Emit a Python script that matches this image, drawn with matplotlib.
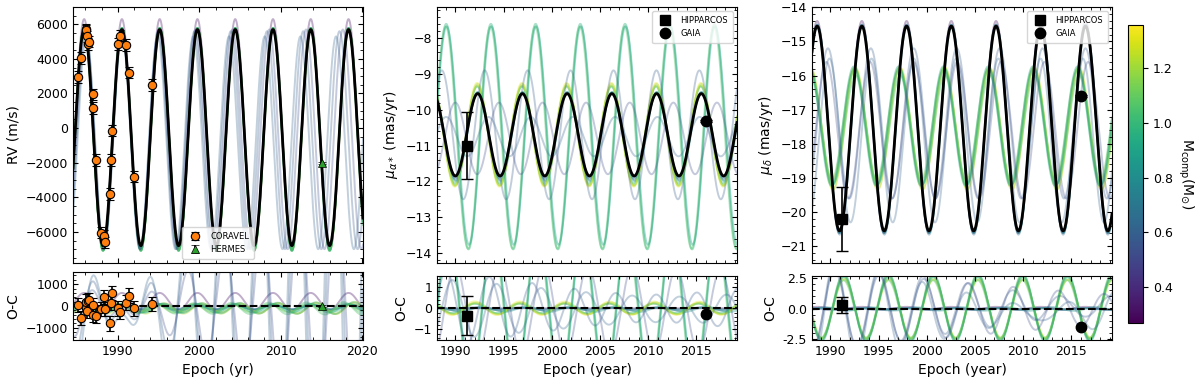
import numpy as np
import matplotlib
matplotlib.use('Agg')
import matplotlib.pyplot as plt
from matplotlib import colors, cm
from matplotlib.ticker import AutoMinorLocator, MultipleLocator, FormatStrFormatter

# ---- orbit samples ----
# companion mass of each sampled orbit, sets the colour
mass = [0.33, 0.55, 0.65, 0.75, 0.85, 0.95, 1.05, 1.15, 1.25, 1.32, 0.98, 1.06, 0.90, 0.58, 0.62, 0.52]
line_alpha = [0.35, 0.35, 0.35, 0.35, 0.35, 0.35, 0.35, 0.35, 0.35, 0.35, 0.4, 0.4, 0.4, 0.3, 0.3, 0.3]
period = [4.636, 4.640, 4.632, 4.636, 4.638, 4.636, 4.634, 4.638, 4.636, 4.640, 4.636, 4.634, 4.638, 4.45, 4.38, 4.52]

# RV: time of maximum, semi-amplitude, offset (m/s)
rv_tp = [1985.87, 1985.85, 1985.89, 1985.87, 1985.86, 1985.88, 1985.87, 1985.85, 1985.89, 1985.87, 1985.87, 1985.86, 1985.88, 1986.06, 1986.13, 1985.99]
rv_amp = [6650, 6350, 6350, 6380, 6350, 6400, 6420, 6400, 6420, 6400, 6450, 6450, 6430, 6300, 6150, 6350]
rv_off = [-350, -600, -600, -620, -600, -650, -650, -650, -660, -650, -650, -660, -650, -700, -850, -650]

# proper motion in RA (mas/yr)
pma_tp = [1992.32, 1992.30, 1992.34, 1992.32, 1992.36, 1992.26, 1992.28, 1992.30, 1992.27, 1992.25, 1989.05, 1989.00, 1989.10, 1988.60, 1989.05, 1990.00]
pma_amp = [1.15, 1.20, 1.22, 1.18, 1.25, 1.35, 1.38, 1.42, 1.40, 1.45, 3.15, 3.10, 3.05, 1.80, 0.55, 1.00]
pma_off = [-10.70, -10.72, -10.74, -10.70, -10.75, -10.70, -10.72, -10.70, -10.72, -10.70, -10.75, -10.78, -10.72, -10.70, -10.75, -10.80]

# proper motion in Dec (mas/yr)
pmd_tp = [1993.27, 1993.25, 1993.29, 1993.27, 1993.30, 1992.55, 1992.45, 1992.60, 1992.50, 1992.58, 1992.52, 1992.62, 1992.44, 1989.75, 1989.90, 1989.60]
pmd_amp = [3.10, 3.05, 3.08, 3.05, 3.02, 1.70, 1.60, 1.78, 1.66, 1.80, 1.72, 1.58, 1.75, 2.20, 2.40, 2.00]
pmd_off = [-17.50, -17.57, -17.58, -17.56, -17.57, -17.50, -17.45, -17.55, -17.42, -17.55, -17.50, -17.58, -17.48, -17.40, -17.90, -17.60]

# best-fit orbit (black)
best_period = 4.636
best_rv = [1985.87, 6250, -550]
best_pma = [1992.32, 1.15, -10.70]
best_pmd = [1993.27, 3.00, -17.55]

# ---- measurements ----
coravel_t = [1985.15, 1985.43, 1986.05, 1986.12, 1986.20, 1986.30, 1986.45, 1986.97, 1987.00, 1987.38, 1987.90,
             1988.26, 1988.47, 1989.08, 1989.12, 1989.29, 1990.02, 1990.33, 1991.03, 1991.43, 1992.04, 1994.19]
coravel_rv = [2950, 4050, 5700, 5650, 5300, 4850, 5000, 1950, 1150, -1850, -6050,
              -6250, -6600, -3800, -1850, -150, 4850, 5350, 4800, 3200, -2800, 2500]
coravel_err = [330, 330, 330, 330, 330, 330, 330, 330, 330, 330, 330,
               330, 330, 330, 330, 330, 330, 330, 330, 330, 330, 330]
coravel_oc = [46, -537, -74, 204, -231, 250, 278, 46, -417, -444, -139,
              403, -139, -801, 157, 588, -106, -259, 157, 481, -106, 93]
hermes_t = [2015.03]
hermes_rv = [-2040]
hermes_err = [60]
hermes_oc = [0]

hip_t, gaia_t = 1991.25, 2016.0
pma_hip, pma_hip_err, pma_hip_oc = -11.0, 0.93, -0.35
pma_gaia, pma_gaia_err, pma_gaia_oc = -10.32, 0.03, -0.25
pmd_hip, pmd_hip_err, pmd_hip_oc, pmd_hip_ocerr = -20.2, 0.93, 0.32, 0.67
pmd_gaia, pmd_gaia_err, pmd_gaia_oc = -16.6, 0.03, -1.5


def orbit(t, P, tp, amp, off):
    return off + amp * np.cos(2 * np.pi * (t - tp) / P)


def style(ax):
    ax.tick_params(direction='in', which='both', top=True, right=True, labelsize=9)
    ax.xaxis.set_minor_locator(AutoMinorLocator())
    ax.yaxis.set_minor_locator(AutoMinorLocator())


norm = colors.Normalize(vmin=0.27, vmax=1.36)
cmap = plt.get_cmap('viridis')

fig = plt.figure(figsize=(12, 3.81), dpi=100)

H = 381.
W = 1200.
def box(x0, x1, y0, y1):
    return [x0 / W, 1 - y1 / H, (x1 - x0) / W, (y1 - y0) / H]

panels = [
    dict(main=box(73, 363, 7, 263), res=box(73, 363, 272, 340), xlim=(1984.5, 2020.1),
         tp=rv_tp, amp=rv_amp, off=rv_off, best=best_rv),
    dict(main=box(437, 737, 7, 263), res=box(437, 737, 275.5, 340), xlim=(1988.1, 2019.2),
         tp=pma_tp, amp=pma_amp, off=pma_off, best=best_pma),
    dict(main=box(812, 1112, 7, 263), res=box(812, 1112, 275.5, 340), xlim=(1988.1, 2019.2),
         tp=pmd_tp, amp=pmd_amp, off=pmd_off, best=best_pmd),
]

axes = []
for p in panels:
    ax = fig.add_axes(p['main'])
    axr = fig.add_axes(p['res'], sharex=ax)
    t = np.linspace(p['xlim'][0], p['xlim'][1], 2000)
    yb = orbit(t, best_period, *p['best'])
    for i in range(len(mass)):
        y = orbit(t, period[i], p['tp'][i], p['amp'][i], p['off'][i])
        c = cmap(norm(mass[i]))
        ax.plot(t, y, color=c, alpha=line_alpha[i], lw=1.4, zorder=1)
        axr.plot(t, y - yb, color=c, alpha=line_alpha[i], lw=1.4, zorder=1)
    ax.plot(t, yb, color='k', lw=2, zorder=3)
    axr.axhline(0, color='k', ls='--', lw=1.5, zorder=3)
    ax.set_xlim(p['xlim'])
    style(ax)
    style(axr)
    plt.setp(ax.get_xticklabels(), visible=False)
    axes.append((ax, axr))

# ---- RV panel ----
ax, axr = axes[0]
ax.errorbar(coravel_t, coravel_rv, yerr=coravel_err, fmt='o', color='#ff7f0e', mec='k', mew=0.8,
            ms=6, ecolor='k', elinewidth=1.2, capsize=3, zorder=5, label='CORAVEL')
ax.errorbar(hermes_t, hermes_rv, yerr=hermes_err, fmt='^', color='#2ca02c', mec='k', mew=0.5,
            ms=6, ecolor='k', elinewidth=1.2, capsize=3, zorder=5, label='HERMES')
axr.errorbar(coravel_t, coravel_oc, yerr=coravel_err, fmt='o', color='#ff7f0e', mec='k', mew=0.8,
             ms=6, ecolor='k', elinewidth=1.2, capsize=3, zorder=5)
axr.errorbar(hermes_t, hermes_oc, yerr=hermes_err, fmt='^', color='#2ca02c', mec='k', mew=0.5,
             ms=6, ecolor='k', elinewidth=1.2, capsize=3, zorder=5)
ax.set_ylim(-7800, 7000)
ax.yaxis.set_major_locator(MultipleLocator(2000))
axr.set_ylim(-1560, 1560)
axr.yaxis.set_major_locator(MultipleLocator(1000))
ax.set_ylabel('RV (m/s)', fontsize=10)
axr.set_ylabel('O-C', fontsize=10)
axr.set_xlabel('Epoch (yr)', fontsize=10)
axr.xaxis.set_major_locator(MultipleLocator(10))
ax.legend(loc='lower center', fontsize=6, borderpad=0.6)

# ---- proper motion panels ----
pm_data = [
    (pma_hip, pma_hip_err, pma_hip_oc, pma_hip_err, pma_gaia, pma_gaia_err, pma_gaia_oc,
     (-14.28, -7.13), (-1.5, 1.55), r'$\mu_{\alpha*}$ (mas/yr)', 1.0, 1),
    (pmd_hip, pmd_hip_err, pmd_hip_oc, pmd_hip_ocerr, pmd_gaia, pmd_gaia_err, pmd_gaia_oc,
     (-21.49, -13.99), (-2.55, 2.7), r'$\mu_{\delta}$ (mas/yr)', 1.0, 2.5),
]
for (ax, axr), d in zip(axes[1:], pm_data):
    hip, hip_e, hip_oc, hip_oce, gaia, gaia_e, gaia_oc, ylim, rlim, lab, ymaj, rmaj = d
    ax.errorbar([hip_t], [hip], yerr=[hip_e], fmt='none', ecolor='k', elinewidth=1.2, capsize=4, zorder=5)
    ax.plot([hip_t], [hip], 's', color='k', ms=7.5, zorder=6, label='HIPPARCOS')
    ax.errorbar([gaia_t], [gaia], yerr=[gaia_e], fmt='none', ecolor='k', elinewidth=1.2, capsize=4, zorder=5)
    ax.plot([gaia_t], [gaia], 'o', color='k', ms=7.5, zorder=6, label='GAIA')
    axr.errorbar([hip_t], [hip_oc], yerr=[hip_oce], fmt='none', ecolor='k', elinewidth=1.2, capsize=4, zorder=5)
    axr.plot([hip_t], [hip_oc], 's', color='k', ms=7.5, zorder=6)
    axr.plot([gaia_t], [gaia_oc], 'o', color='k', ms=7.5, zorder=6)
    ax.set_ylim(ylim)
    ax.yaxis.set_major_locator(MultipleLocator(ymaj))
    axr.set_ylim(rlim)
    axr.yaxis.set_major_locator(MultipleLocator(rmaj))
    ax.set_ylabel(lab, fontsize=10)
    axr.set_ylabel('O-C', fontsize=10)
    axr.set_xlabel('Epoch (year)', fontsize=10)
    axr.xaxis.set_major_locator(MultipleLocator(5))
    ax.legend(loc='upper right', fontsize=6, borderpad=0.6)

axes[2][1].yaxis.set_major_formatter(FormatStrFormatter('%.1f'))

# ---- colour bar ----
cax = fig.add_axes(box(1128, 1143, 24.5, 322.5))
cb = fig.colorbar(cm.ScalarMappable(norm=norm, cmap=cmap), cax=cax)
cb.set_ticks([0.4, 0.6, 0.8, 1.0, 1.2])
cb.ax.tick_params(labelsize=9)
cb.set_label(r'M$_{\rm comp}$(M$_{\odot}$)', rotation=270, labelpad=16, fontsize=10)

fig.savefig('out.png', dpi=100)
